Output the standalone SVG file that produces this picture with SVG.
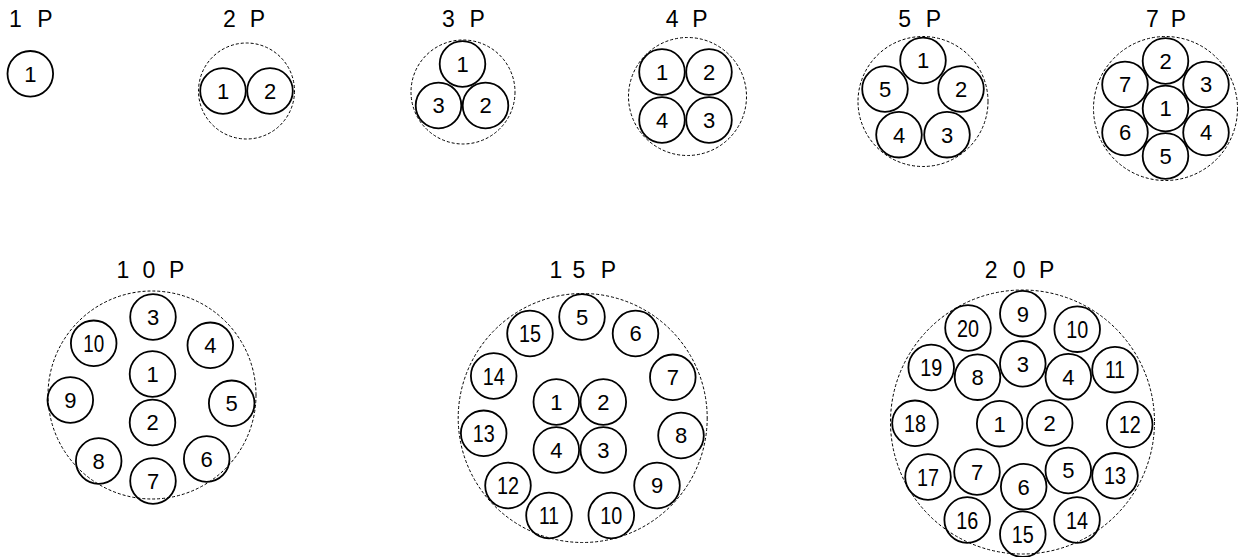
<svg xmlns="http://www.w3.org/2000/svg" width="1240" height="557" viewBox="0 0 1240 557">
<style>
.c{fill:none;stroke:#000;stroke-width:1.8}
.d{fill:none;stroke:#000;stroke-width:1;stroke-dasharray:3 2}
.n{font-family:"Liberation Sans",Arial,sans-serif;font-size:22px;text-anchor:middle;fill:#000}
.m{font-family:"Liberation Sans",Arial,sans-serif;font-size:24px;text-anchor:middle;fill:#000}
.t{font-family:"Liberation Sans",Arial,sans-serif;font-size:23px;text-anchor:middle;fill:#000}
</style>
<rect width="1240" height="557" fill="#fff"/>
<g id="connectors"/>

<g id="p1">
<text class="t" x="15.3 29.5 44.8" y="27">1 P</text>
<g id="p1-1"><circle class="c" cx="30.3" cy="73.8" r="22.8"/><text class="n" x="30.3" y="81.6">1</text></g>
</g>

<g id="p2">
<text class="t" x="229.5 243.5 257.5" y="27">2 P</text>
<circle class="d" cx="246.5" cy="91" r="48"/>
<g id="p2-1"><circle class="c" cx="223" cy="91" r="22.8"/><text class="n" x="223" y="98.8">1</text></g>
<g id="p2-2"><circle class="c" cx="270" cy="91" r="22.8"/><text class="n" x="270" y="98.8">2</text></g>
</g>

<g id="p3">
<text class="t" x="448.3 462.7 477.2" y="27">3 P</text>
<circle class="d" cx="463" cy="92" r="52"/>
<g id="p3-1"><circle class="c" cx="462.5" cy="64" r="22.8"/><text class="n" x="462.5" y="71.8">1</text></g>
<g id="p3-2"><circle class="c" cx="485.5" cy="105.5" r="22.8"/><text class="n" x="485.5" y="113.3">2</text></g>
<g id="p3-3"><circle class="c" cx="438.5" cy="105.5" r="22.8"/><text class="n" x="438.5" y="113.3">3</text></g>
</g>

<g id="p4">
<text class="t" x="672.2 686 700" y="27">4 P</text>
<circle class="d" cx="687.5" cy="96.5" r="59"/>
<g id="p4-1"><circle class="c" cx="662" cy="72" r="22.8"/><text class="n" x="662" y="79.8">1</text></g>
<g id="p4-2"><circle class="c" cx="709" cy="72" r="22.8"/><text class="n" x="709" y="79.8">2</text></g>
<g id="p4-3"><circle class="c" cx="709" cy="120" r="22.8"/><text class="n" x="709" y="127.8">3</text></g>
<g id="p4-4"><circle class="c" cx="662" cy="120" r="22.8"/><text class="n" x="662" y="127.8">4</text></g>
</g>

<g id="p5">
<text class="t" x="904.7 919 933.3" y="27">5 P</text>
<circle class="d" cx="923" cy="101.5" r="65"/>
<g id="p5-1"><circle class="c" cx="923" cy="60.5" r="22.8"/><text class="n" x="923" y="68.3">1</text></g>
<g id="p5-2"><circle class="c" cx="961" cy="89" r="22.8"/><text class="n" x="961" y="96.8">2</text></g>
<g id="p5-3"><circle class="c" cx="947" cy="134.7" r="22.8"/><text class="n" x="947" y="142.5">3</text></g>
<g id="p5-4"><circle class="c" cx="899" cy="134.7" r="22.8"/><text class="n" x="899" y="142.5">4</text></g>
<g id="p5-5"><circle class="c" cx="885" cy="89" r="22.8"/><text class="n" x="885" y="96.8">5</text></g>
</g>

<g id="p7">
<text class="t" x="1152.5 1165.5 1178.3" y="27">7 P</text>
<circle class="d" cx="1165.5" cy="108.5" r="72"/>
<g id="p7-1"><circle class="c" cx="1165.5" cy="108.5" r="22.8"/><text class="n" x="1165.5" y="116.3">1</text></g>
<g id="p7-2"><circle class="c" cx="1165.5" cy="61" r="22.8"/><text class="n" x="1165.5" y="68.8">2</text></g>
<g id="p7-3"><circle class="c" cx="1206" cy="84.5" r="22.8"/><text class="n" x="1206" y="92.3">3</text></g>
<g id="p7-4"><circle class="c" cx="1206" cy="132.5" r="22.8"/><text class="n" x="1206" y="140.3">4</text></g>
<g id="p7-5"><circle class="c" cx="1165.5" cy="156" r="22.8"/><text class="n" x="1165.5" y="163.8">5</text></g>
<g id="p7-6"><circle class="c" cx="1125" cy="132.5" r="22.8"/><text class="n" x="1125" y="140.3">6</text></g>
<g id="p7-7"><circle class="c" cx="1125" cy="84.5" r="22.8"/><text class="n" x="1125" y="92.3">7</text></g>
</g>

<g id="p10">
<text class="t" x="122.8 136 149 163 176.7" y="278">1 0 P</text>
<circle class="d" cx="152" cy="395" r="104"/>
<g id="p10-1"><circle class="c" cx="152.5" cy="374" r="22.8"/><text class="n" x="152.5" y="381.8">1</text></g>
<g id="p10-2"><circle class="c" cx="152.5" cy="422.5" r="22.8"/><text class="n" x="152.5" y="430.3">2</text></g>
<g id="p10-3"><circle class="c" cx="153" cy="317" r="22.8"/><text class="n" x="153" y="324.8">3</text></g>
<g id="p10-4"><circle class="c" cx="210.3" cy="345.3" r="22.8"/><text class="n" x="210.3" y="353.1">4</text></g>
<g id="p10-5"><circle class="c" cx="231.7" cy="403.3" r="22.8"/><text class="n" x="231.7" y="411.1">5</text></g>
<g id="p10-6"><circle class="c" cx="206.7" cy="459" r="22.8"/><text class="n" x="206.7" y="466.8">6</text></g>
<g id="p10-7"><circle class="c" cx="153" cy="481" r="22.8"/><text class="n" x="153" y="488.8">7</text></g>
<g id="p10-8"><circle class="c" cx="98.7" cy="461" r="22.8"/><text class="n" x="98.7" y="468.8">8</text></g>
<g id="p10-9"><circle class="c" cx="70.3" cy="400" r="22.8"/><text class="n" x="70.3" y="407.8">9</text></g>
<g id="p10-10"><circle class="c" cx="93.7" cy="343.3" r="22.8"/><text class="m" x="93.7" y="351.9" textLength="21" lengthAdjust="spacingAndGlyphs">10</text></g>
</g>

<g id="p15">
<text class="t" x="556 567.5 579 593.5 608.3" y="278">1 5 P</text>
<circle class="d" cx="582.7" cy="418" r="124.5"/>
<g id="p15-1"><circle class="c" cx="556.3" cy="402" r="22.8"/><text class="n" x="556.3" y="409.8">1</text></g>
<g id="p15-2"><circle class="c" cx="603.3" cy="402" r="22.8"/><text class="n" x="603.3" y="409.8">2</text></g>
<g id="p15-3"><circle class="c" cx="603.3" cy="450" r="22.8"/><text class="n" x="603.3" y="457.8">3</text></g>
<g id="p15-4"><circle class="c" cx="556.3" cy="450" r="22.8"/><text class="n" x="556.3" y="457.8">4</text></g>
<g id="p15-5"><circle class="c" cx="582" cy="317" r="22.8"/><text class="n" x="582" y="324.8">5</text></g>
<g id="p15-6"><circle class="c" cx="635.5" cy="333.5" r="22.8"/><text class="n" x="635.5" y="341.3">6</text></g>
<g id="p15-7"><circle class="c" cx="672.8" cy="377.3" r="22.8"/><text class="n" x="672.8" y="385.1">7</text></g>
<g id="p15-8"><circle class="c" cx="681" cy="435.5" r="22.8"/><text class="n" x="681" y="443.3">8</text></g>
<g id="p15-9"><circle class="c" cx="657" cy="485.5" r="22.8"/><text class="n" x="657" y="493.3">9</text></g>
<g id="p15-10"><circle class="c" cx="611.3" cy="515.5" r="22.8"/><text class="m" x="611.3" y="524.1" textLength="22" lengthAdjust="spacingAndGlyphs">10</text></g>
<g id="p15-11"><circle class="c" cx="549" cy="515.5" r="22.8"/><text class="m" x="549" y="524.1" textLength="20" lengthAdjust="spacingAndGlyphs">11</text></g>
<g id="p15-12"><circle class="c" cx="508" cy="485.5" r="22.8"/><text class="m" x="508" y="494.1" textLength="22" lengthAdjust="spacingAndGlyphs">12</text></g>
<g id="p15-13"><circle class="c" cx="483.7" cy="433.3" r="22.8"/><text class="m" x="483.7" y="441.9" textLength="22" lengthAdjust="spacingAndGlyphs">13</text></g>
<g id="p15-14"><circle class="c" cx="493.7" cy="376" r="22.8"/><text class="m" x="493.7" y="384.6" textLength="22" lengthAdjust="spacingAndGlyphs">14</text></g>
<g id="p15-15"><circle class="c" cx="530" cy="333.5" r="22.8"/><text class="m" x="530" y="342.1" textLength="22" lengthAdjust="spacingAndGlyphs">15</text></g>
</g>

<g id="p20">
<text class="t" x="991.2 1005 1019.2 1033 1046.7" y="278">2 0 P</text>
<circle class="d" cx="1022.5" cy="422" r="132"/>
<g id="p20-1"><circle class="c" cx="999.7" cy="423.7" r="22.8"/><text class="n" x="999.7" y="431.5">1</text></g>
<g id="p20-2"><circle class="c" cx="1049.7" cy="423" r="22.8"/><text class="n" x="1049.7" y="430.8">2</text></g>
<g id="p20-3"><circle class="c" cx="1022.8" cy="363.8" r="22.8"/><text class="n" x="1022.8" y="371.6">3</text></g>
<g id="p20-4"><circle class="c" cx="1068.3" cy="376.7" r="22.8"/><text class="n" x="1068.3" y="384.5">4</text></g>
<g id="p20-5"><circle class="c" cx="1068.3" cy="470.5" r="22.8"/><text class="n" x="1068.3" y="478.3">5</text></g>
<g id="p20-6"><circle class="c" cx="1023.7" cy="486.7" r="22.8"/><text class="n" x="1023.7" y="494.5">6</text></g>
<g id="p20-7"><circle class="c" cx="977" cy="472" r="22.8"/><text class="n" x="977" y="479.8">7</text></g>
<g id="p20-8"><circle class="c" cx="977.5" cy="377.2" r="22.8"/><text class="n" x="977.5" y="385">8</text></g>
<g id="p20-9"><circle class="c" cx="1022.8" cy="313.7" r="22.8"/><text class="n" x="1022.8" y="321.5">9</text></g>
<g id="p20-10"><circle class="c" cx="1077.2" cy="329.2" r="22.8"/><text class="m" x="1077.2" y="337.8" textLength="22" lengthAdjust="spacingAndGlyphs">10</text></g>
<g id="p20-11"><circle class="c" cx="1115" cy="369.7" r="22.8"/><text class="m" x="1115" y="378.3" textLength="20" lengthAdjust="spacingAndGlyphs">11</text></g>
<g id="p20-12"><circle class="c" cx="1129.7" cy="424.5" r="22.8"/><text class="m" x="1129.7" y="433.1" textLength="22" lengthAdjust="spacingAndGlyphs">12</text></g>
<g id="p20-13"><circle class="c" cx="1115" cy="475.8" r="22.8"/><text class="m" x="1115" y="484.4" textLength="22" lengthAdjust="spacingAndGlyphs">13</text></g>
<g id="p20-14"><circle class="c" cx="1077" cy="520" r="22.8"/><text class="m" x="1077" y="528.6" textLength="22" lengthAdjust="spacingAndGlyphs">14</text></g>
<g id="p20-15"><circle class="c" cx="1022.8" cy="534.2" r="22.8"/><text class="m" x="1022.8" y="542.8" textLength="22" lengthAdjust="spacingAndGlyphs">15</text></g>
<g id="p20-16"><circle class="c" cx="967.2" cy="520" r="22.8"/><text class="m" x="967.2" y="528.6" textLength="22" lengthAdjust="spacingAndGlyphs">16</text></g>
<g id="p20-17"><circle class="c" cx="928" cy="477" r="22.8"/><text class="m" x="928" y="485.6" textLength="22" lengthAdjust="spacingAndGlyphs">17</text></g>
<g id="p20-18"><circle class="c" cx="915" cy="423.3" r="22.8"/><text class="m" x="915" y="431.9" textLength="22" lengthAdjust="spacingAndGlyphs">18</text></g>
<g id="p20-19"><circle class="c" cx="931.2" cy="367.5" r="22.8"/><text class="m" x="931.2" y="376.1" textLength="22" lengthAdjust="spacingAndGlyphs">19</text></g>
<g id="p20-20"><circle class="c" cx="968" cy="328" r="22.8"/><text class="m" x="968" y="336.6" textLength="22" lengthAdjust="spacingAndGlyphs">20</text></g>
</g>
</svg>
